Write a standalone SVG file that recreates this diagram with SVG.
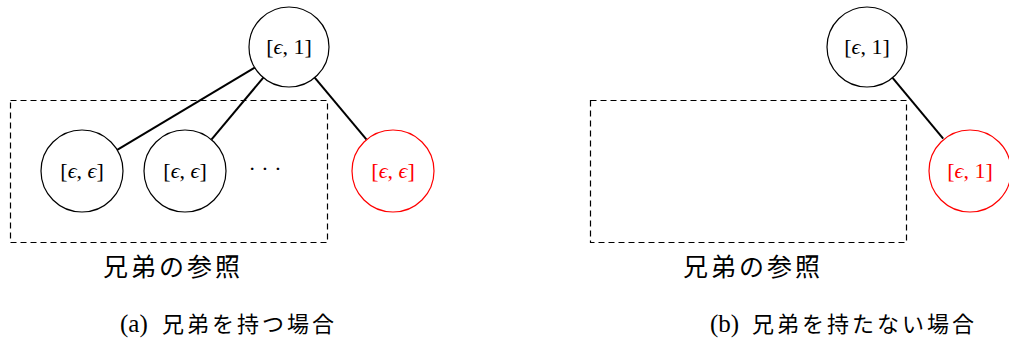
<svg xmlns="http://www.w3.org/2000/svg" width="1009" height="342" viewBox="0 0 1009 342">
<style>
.node{fill:#fff;stroke:#000;stroke-width:1.2}
.red{stroke:#f00}
.lbl{font-family:"Liberation Serif","DejaVu Serif",serif;font-size:22px;text-anchor:middle;fill:#000}
.redt{fill:#f00}
.edge{stroke:#000;stroke-width:2;fill:none}
.box{fill:none;stroke:#000;stroke-width:1.2;stroke-dasharray:6 4}
.cjk{font-family:"Liberation Serif","Noto Sans CJK JP",serif;font-size:25px;letter-spacing:3px;fill:#000}
.cap{font-family:"Liberation Serif","Noto Sans CJK JP",serif;font-size:25px;fill:#000}
.capj{letter-spacing:3px;font-size:22px}
</style>
<rect width="1009" height="342" fill="#fff"/>
<g id="connectors">
<line class="edge" x1="254.7" y1="67.6" x2="117.2" y2="149.9"/>
<line class="edge" x1="263.3" y1="77.6" x2="211.4" y2="139.6"/>
<line class="edge" x1="314.7" y1="77.6" x2="366.6" y2="139.6"/>
<line class="edge" x1="892.6" y1="77.8" x2="943.2" y2="138.7"/>
</g>
<g id="box-a"><rect class="box" x="10.5" y="100.5" width="317" height="142"/></g>
<g id="box-b"><rect class="box" x="590.5" y="100.5" width="316" height="142"/></g>
<g id="a-root"><circle class="node" cx="289" cy="47" r="40"/><text class="lbl" x="289" y="54">[<tspan font-style="italic">ϵ</tspan>, 1]</text></g>
<g id="a-child1"><circle class="node" cx="82" cy="171" r="41"/><text class="lbl" x="82" y="178">[<tspan font-style="italic">ϵ</tspan>, <tspan font-style="italic">ϵ</tspan>]</text></g>
<g id="a-child2"><circle class="node" cx="185" cy="171" r="41"/><text class="lbl" x="185" y="178">[<tspan font-style="italic">ϵ</tspan>, <tspan font-style="italic">ϵ</tspan>]</text></g>
<g id="a-dots"><text class="lbl" x="265" y="176">· · ·</text></g>
<g id="a-red"><circle class="node red" cx="393" cy="171" r="41"/><text class="lbl redt" x="393" y="178">[<tspan font-style="italic">ϵ</tspan>, <tspan font-style="italic">ϵ</tspan>]</text></g>
<g id="b-root"><circle class="node" cx="867" cy="47" r="40"/><text class="lbl" x="867" y="54">[<tspan font-style="italic">ϵ</tspan>, 1]</text></g>
<g id="b-red"><circle class="node red" cx="970" cy="171" r="41"/><text class="lbl redt" x="970" y="178">[<tspan font-style="italic">ϵ</tspan>, 1]</text></g>
<g id="label-a"><text class="cjk" x="103" y="276">兄弟の参照</text></g>
<g id="label-b"><text class="cjk" x="683" y="276">兄弟の参照</text></g>
<g id="caption-a"><text class="cap" x="120" y="332">(a)<tspan class="capj" x="162">兄弟を持つ場合</tspan></text></g>
<g id="caption-b"><text class="cap" x="710" y="332">(b)<tspan class="capj" x="752">兄弟を持たない場合</tspan></text></g>
</svg>
